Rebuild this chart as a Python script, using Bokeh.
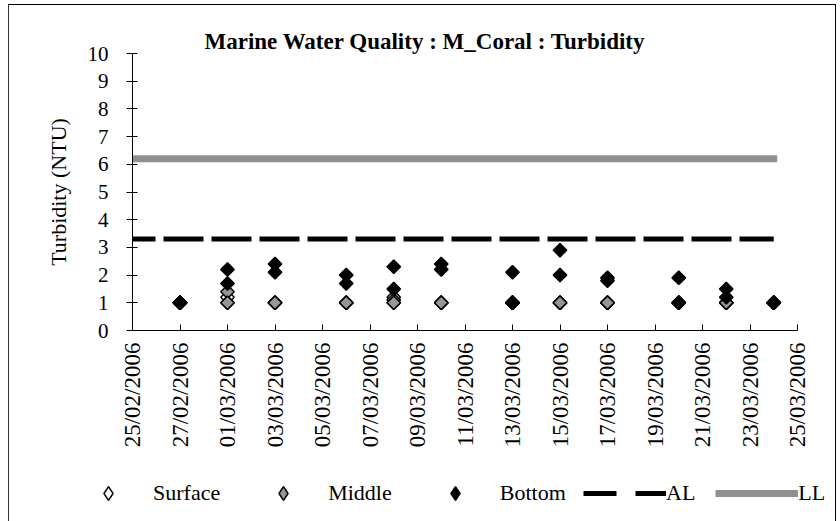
import datetime as dt
import numpy as np
from bokeh.plotting import figure
from bokeh.layouts import column
from bokeh.models import (ColumnDataSource, Range1d, FixedTicker,
                          DatetimeTickFormatter, Legend, LegendItem)
from bokeh.embed import file_html
from bokeh.resources import INLINE

# ---------------- data ----------------
title_text = "Marine Water Quality : M_Coral  : Turbidity"
y_label = "Turbidity (NTU)"

tick_dates = ["25/02/2006", "27/02/2006", "01/03/2006", "03/03/2006", "05/03/2006",
              "07/03/2006", "09/03/2006", "11/03/2006", "13/03/2006", "15/03/2006",
              "17/03/2006", "19/03/2006", "21/03/2006", "23/03/2006", "25/03/2006"]
y_ticks = [0, 1, 2, 3, 4, 5, 6, 7, 8, 9, 10]

sample_dates = ["27/02/2006", "01/03/2006", "03/03/2006", "06/03/2006", "08/03/2006",
                "10/03/2006", "13/03/2006", "15/03/2006", "17/03/2006", "20/03/2006",
                "22/03/2006", "24/03/2006"]
surface_1 = [1.0, 1.2, 1.0, 1.0, 1.2, 1.0, 1.0, 1.0, 1.0, 1.0, 1.0, 1.0]
surface_2 = [1.0, 1.0, 1.0, 1.0, 1.0, 1.0, 1.0, 1.0, 1.0, 1.0, 1.0, 1.0]
middle_1 = [1.0, 1.4, 1.0, 1.0, 1.1, 1.0, 1.0, 1.0, 1.0, 1.0, 1.0, 1.0]
middle_2 = [1.0, 1.0, 1.0, 1.0, 1.0, 1.0, 1.0, 1.0, 1.0, 1.0, 1.0, 1.0]
bottom_1 = [1.0, 2.2, 2.4, 2.0, 2.3, 2.4, 2.1, 2.9, 1.9, 1.9, 1.5, 1.0]
bottom_2 = [1.0, 1.7, 2.1, 1.7, 1.5, 2.2, 1.0, 2.0, 1.8, 1.0, 1.2, 1.0]

limit_dates = ["25/02/2006", "24/03/2006"]
al_values = [3.3, 3.3]
ll_values = [6.2, 6.2]

legend_labels = ["Surface", "Middle", "Bottom", "AL", "LL"]

# ---------------- helpers ----------------
def to_dt(s):
    return dt.datetime.strptime(s, "%d/%m/%Y")

def to_ms(s):
    return (to_dt(s) - dt.datetime(1970, 1, 1)).total_seconds() * 1000.0

FONT = "Liberation Serif"
W = 826

p = figure(width=W, height=450, x_axis_type="datetime",
           x_range=Range1d(to_dt(tick_dates[0]), to_dt(tick_dates[-1])),
           y_range=Range1d(y_ticks[0], y_ticks[-1]),
           output_backend="svg", toolbar_location=None,
           min_border_left=123, min_border_right=38, min_border_top=48, min_border_bottom=125)
p.frame_align = False
p.outline_line_color = None
p.xgrid.visible = False
p.ygrid.visible = False
p.background_fill_color = "white"
p.border_fill_color = "white"

# title
p.title.text = title_text
p.title.text_font = FONT
p.title.text_font_size = "23px"
p.title.text_font_style = "bold"
p.title.text_color = "black"
p.title.align = "left"
p.title.offset = 72
p.title.standoff = 0

# axes
xa = p.xaxis[0]
xa.ticker = FixedTicker(ticks=[to_ms(d) for d in tick_dates])
fmt = "%d/%m/%Y"
xa.formatter = DatetimeTickFormatter(days=fmt, months=fmt, years=fmt, hours=fmt,
                                     hourmin=fmt, minutes=fmt, minsec=fmt, seconds=fmt,
                                     milliseconds=fmt, microseconds=fmt)
xa.major_label_orientation = np.pi / 2
xa.major_tick_in = 6
xa.major_tick_out = 0
xa.minor_tick_in = 0
xa.minor_tick_out = 0
xa.major_label_standoff = 12
xa.major_label_text_font = FONT
xa.major_label_text_font_size = "23px"
xa.major_label_text_color = "black"
xa.axis_line_color = "black"
xa.major_tick_line_color = "black"

ya = p.yaxis[0]
ya.ticker = FixedTicker(ticks=y_ticks)
ya.major_tick_in = 5
ya.major_tick_out = 6
ya.minor_tick_in = 0
ya.minor_tick_out = 0
ya.major_label_standoff = 18
ya.major_label_text_font = FONT
ya.major_label_text_font_size = "21px"
ya.major_label_text_color = "black"
ya.axis_label = y_label
ya.axis_label_text_font = FONT
ya.axis_label_text_font_size = "22px"
ya.axis_label_text_font_style = "normal"
ya.axis_label_text_color = "black"
ya.axis_label_standoff = 14
ya.axis_line_color = "black"
ya.major_tick_line_color = "black"

# points (two sampling sites per date)
dates_all = [to_dt(d) for d in sample_dates] * 2
src_s = ColumnDataSource(dict(x=dates_all, y=surface_1 + surface_2))
src_m = ColumnDataSource(dict(x=dates_all, y=middle_1 + middle_2))
src_b = ColumnDataSource(dict(x=dates_all, y=bottom_1 + bottom_2))

mk = dict(marker="square", angle=np.pi / 4, size=9.5, line_color="black", line_width=1.5)
p.scatter("x", "y", source=src_s, fill_color="white", **mk)
p.scatter("x", "y", source=src_m, fill_color="#969696", **mk)
p.scatter("x", "y", source=src_b, fill_color="black", **mk)

# limit lines
lim_x = [to_dt(d) for d in limit_dates]
p.line(lim_x, al_values, line_color="black", line_width=5, line_dash="40 8",
       line_dash_offset=17, line_cap="butt")
p.line(lim_x, ll_values, line_color="#8f8f8f", line_width=7, line_cap="square")

# ---------------- legend strip ----------------
QH = 66
q = figure(width=W, height=QH, x_range=Range1d(0, W), y_range=Range1d(0, QH),
           x_axis_location=None, y_axis_location=None,
           output_backend="svg", toolbar_location=None,
           min_border_left=0, min_border_right=0, min_border_top=0, min_border_bottom=0)
q.frame_align = False
q.outline_line_color = None
q.xgrid.visible = False
q.ygrid.visible = False
q.background_fill_color = "white"
q.border_fill_color = "white"

# legend proxy glyphs (their single point lies outside the visible range)
off = dict(x=[-1000], y=[-1000])
r_s = q.scatter(marker="diamond", fill_color="white", line_color="black", line_width=1.5, **off)
r_m = q.scatter(marker="diamond", fill_color="#969696", line_color="black", line_width=1.5, **off)
r_b = q.scatter(marker="diamond", fill_color="black", line_color="black", line_width=1.5, **off)
r_al = q.line(line_color="black", line_width=5, line_dash="33 19", line_cap="butt", **off)
r_ll = q.line(line_color="#8f8f8f", line_width=7, line_cap="butt", **off)

common = dict(orientation="horizontal", padding=0, margin=0, border_line_color=None,
              background_fill_alpha=0, label_text_font=FONT, label_text_font_size="22px",
              label_text_color="black")
leg1 = Legend(items=[LegendItem(label=legend_labels[0], renderers=[r_s]),
                     LegendItem(label=legend_labels[1], renderers=[r_m]),
                     LegendItem(label=legend_labels[2], renderers=[r_b])],
              location=(82, 11), glyph_width=34, glyph_height=34, label_height=34,
              label_standoff=28, spacing=46, **common)
leg2 = Legend(items=[LegendItem(label=legend_labels[3], renderers=[r_al]),
                     LegendItem(label=legend_labels[4], renderers=[r_ll])],
              location=(574, 13), glyph_width=83, glyph_height=30, label_height=30,
              label_standoff=0, spacing=20, **common)
q.add_layout(leg1)
q.add_layout(leg2)

layout = column(p, q, spacing=0)
layout.styles = {"margin-left": "8px", "margin-top": "4px",
                 "border-left": "1px solid #333333", "border-top": "1px solid black",
                 "border-right": "1px solid black"}

open("out.html", "w").write(file_html(layout, INLINE))
